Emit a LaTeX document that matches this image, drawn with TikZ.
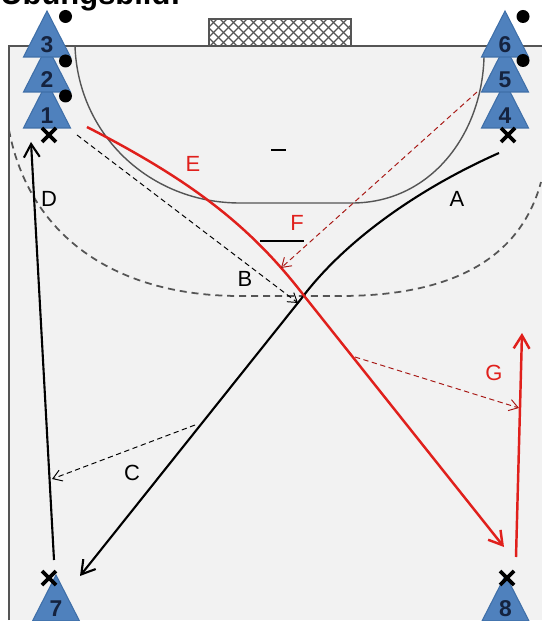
\documentclass[tikz,border=0pt]{standalone}
\usepackage{fontspec}
\setmainfont{Liberation Sans}
\usepackage{xcolor}
\usetikzlibrary{arrows.meta,calc}
\definecolor{field}{HTML}{F2F2F2}
\definecolor{cone}{HTML}{4F81BD}
\definecolor{coneline}{HTML}{3F6FA8}
\definecolor{conetext}{HTML}{15233F}
\definecolor{wall}{HTML}{555555}
\definecolor{accent}{HTML}{E0201C}
\tikzset{
  lab/.style={font=\fontsize{12.5}{14}\selectfont,inner sep=0pt},
  num/.style={font=\fontsize{13}{14}\selectfont\bfseries,text=conetext,inner sep=0pt},
  run/.style={draw=black,line width=1.2pt,-{Straight Barb[length=7.5pt,width=9pt]}},
  pass/.style={draw=black,line width=0.55pt,dash pattern=on 3pt off 2pt,-{Straight Barb[length=5pt,width=6.5pt]}},
  redrun/.style={draw=accent,line width=1.4pt,-{Straight Barb[length=7.5pt,width=9pt]}},
  redpass/.style={draw=accent!75!black,line width=0.55pt,dash pattern=on 3pt off 2pt,-{Straight Barb[length=5pt,width=6.5pt]}},
  cross/.style={line width=2.1pt,black}
}
% one cone with its number: x, y of the tip, number
\newcommand{\conemark}[3]{
  \filldraw[fill=cone,draw=coneline,line width=0.6pt]
    (#1,#2) -- (#1+23.5,#2+46) -- (#1-23.5,#2+46) -- cycle;
  \node[num] (cone#3) at (#1,#2+34) {#3};
}
\begin{document}
\begin{tikzpicture}[x=0.02cm,y=-0.02cm]
      \useasboundingbox (0,0) rectangle (542,621);
      % Title, cut by the page edge
      \node[anchor=base west,inner sep=0pt,font=\fontsize{17.6}{20}\selectfont\bfseries] (title) at (0,5) {Übungsbild:};
      % Field
      \fill[field] (9,46) rectangle (542,620);
      \draw[wall,line width=0.9pt] (9,620) -- (9,46) -- (542,46);
      % Goal
      \begin{scope}
         \clip (209,19) rectangle (351,46);
         \foreach \i in {0,10,...,200} {
            \draw[wall,line width=0.75pt] (180+\i,46) -- (207+\i,19);
            \draw[wall,line width=0.75pt] (180+\i,19) -- (207+\i,46);
         }
      \end{scope}
      \draw[wall,line width=0.9pt] (209,46) -- (209,19) -- (351,19) -- (351,46);
      % Goal area and free throw line
      \draw[wall,line width=0.8pt] (75,46) .. controls (78,135) and (150,203) .. (240,203)
         -- (352,203) .. controls (430,203) and (482,135) .. (484,57);
      \draw[wall,line width=1pt,dash pattern=on 4pt off 2.8pt] (9,130) .. controls (30,240) and (120,296) .. (240,296)
         -- (340,296) .. controls (450,296) and (520,260) .. (541,182);
      % Short marks
      \draw[black,line width=0.7pt] (271,150) -- (286,150);
      \draw[black,line width=0.7pt] (260,241) -- (304,241);
      % Cones
      \conemark{47}{82}{1}
      \conemark{47}{46}{2}
      \conemark{47}{11}{3}
      \conemark{505}{82}{4}
      \conemark{505}{46}{5}
      \conemark{505}{11}{6}
      % Balls
      \foreach \p in {(65.5,16.5),(65.5,61),(65.5,96),(523,16.5),(523,60.5)} {
         \fill[black] \p circle (6.5);
      }
      % Players
      \coordinate (pa) at (49,135);
      \coordinate (pb) at (508,135);
      \coordinate (pc) at (49,578);
      \coordinate (pd) at (507,578);
      \conemark{56}{575}{7}
      \conemark{505.5}{575}{8}
      \foreach \q in {pa,pb,pc,pd} {
         \draw[cross] ($(\q)+(-7,-7)$) -- ($(\q)+(7,7)$);
         \draw[cross] ($(\q)+(-7,7)$) -- ($(\q)+(7,-7)$);
      }
      % Run ends
      \coordinate (astart) at (499,153);
      \coordinate (meet) at (301,299);
      \coordinate (cend) at (80,576);
      \coordinate (bstart) at (77,135);
      \coordinate (bend) at (298,303);
      \coordinate (cpass) at (195,425);
      \coordinate (cpassend) at (52,479);
      \coordinate (dstart) at (54,560);
      \coordinate (dend) at (31,142);
      \coordinate (estart) at (87,127);
      \coordinate (eend) at (504,547);
      \coordinate (fstart) at (477,92);
      \coordinate (fend) at (281,268);
      \coordinate (gpass) at (355,357);
      \coordinate (gpassend) at (519,408);
      \coordinate (gstart) at (516,557);
      \coordinate (gend) at (522,333);
      % Black runs and passes
      \draw[run] (astart) .. controls (420,188) and (345,240) .. (meet) -- (cend);
      \draw[run] (dstart) -- (dend);
      \draw[pass] (bstart) -- (bend);
      \draw[pass] (cpass) -- (cpassend);
      % Red runs and passes
      \draw[redrun] (estart) .. controls (190,180) and (250,225) .. (305,297) -- (eend);
      \draw[redrun] (gstart) -- (gend);
      \draw[redpass] (fstart) -- (fend);
      \draw[redpass] (gpass) -- (gpassend);
      % Labels
      \node[lab] (labA) at (457,199) {A};
      \node[lab] (labB) at (245,279) {B};
      \node[lab] (labC) at (132,473) {C};
      \node[lab] (labD) at (49,199) {D};
      \node[lab,accent] (labE) at (193,164) {E};
      \node[lab,accent] (labF) at (297,223) {F};
      \node[lab,accent] (labG) at (494,373) {G};
    \end{tikzpicture}
\end{document}
